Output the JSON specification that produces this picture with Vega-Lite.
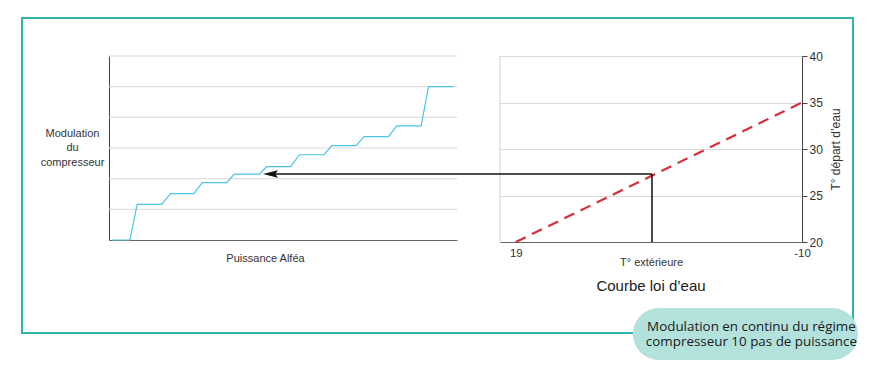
{
  "$schema": "https://vega.github.io/schema/vega-lite/v6.json",
  "padding": {"left": 21, "top": 17, "right": 0, "bottom": 0},
  "autosize": {"type": "pad"},
  "background": "white",
  "config": {
    "font": "Liberation Sans",
    "view": {"stroke": null},
    "axis": {"labelColor": "#333", "titleColor": "#333", "titleFontWeight": "normal", "gridColor": "#d9d9d9", "gridWidth": 1}
  },
  "hconcat": [
    {
      "width": 348,
      "height": 184,
      "layer": [
        {
          "data": {"values": [{"level": 1}, {"level": 2}, {"level": 3}, {"level": 4}, {"level": 5}, {"level": 6}]},
          "mark": {"type": "rule", "color": "#d9d9d9", "strokeWidth": 1},
          "encoding": {
            "x": {"datum": 0, "type": "quantitative"},
            "x2": {"datum": 100},
            "y": {"field": "level", "type": "quantitative"}
          }
        },
        {
          "data": {
            "values": [
              {"puissance": 0.8, "modulation": 0},
              {"puissance": 6.0, "modulation": 0},
              {"puissance": 8.1, "modulation": 1.16},
              {"puissance": 15.1, "modulation": 1.16},
              {"puissance": 17.7, "modulation": 1.51},
              {"puissance": 24.4, "modulation": 1.51},
              {"puissance": 26.8, "modulation": 1.87},
              {"puissance": 33.8, "modulation": 1.87},
              {"puissance": 36.0, "modulation": 2.15},
              {"puissance": 43.2, "modulation": 2.15},
              {"puissance": 45.3, "modulation": 2.39},
              {"puissance": 52.2, "modulation": 2.39},
              {"puissance": 54.7, "modulation": 2.78},
              {"puissance": 61.8, "modulation": 2.78},
              {"puissance": 64.0, "modulation": 3.08},
              {"puissance": 71.0, "modulation": 3.08},
              {"puissance": 73.3, "modulation": 3.37},
              {"puissance": 80.3, "modulation": 3.37},
              {"puissance": 82.7, "modulation": 3.72},
              {"puissance": 89.7, "modulation": 3.72},
              {"puissance": 91.8, "modulation": 5.0},
              {"puissance": 98.9, "modulation": 5.0}
            ]
          },
          "mark": {"type": "line", "color": "#4cc4e8", "strokeWidth": 1.2},
          "encoding": {
            "x": {
              "field": "puissance",
              "type": "quantitative",
              "scale": {"domain": [0, 100], "nice": false, "zero": false},
              "axis": {
                "title": "Puissance Alféa",
                "labels": false,
                "ticks": false,
                "grid": false,
                "domainColor": "#666",
                "titleFontSize": 11,
                "titleX": 156,
                "titleY": 18,
                "titleAlign": "center",
                "titleBaseline": "middle"
              }
            },
            "y": {
              "field": "modulation",
              "type": "quantitative",
              "scale": {"domain": [0, 6], "nice": false},
              "axis": {
                "title": ["Modulation", "du", "compresseur"],
                "labels": false,
                "ticks": false,
                "grid": false,
                "domainColor": "#444",
                "titleAngle": 0,
                "titleX": -37,
                "titleY": 71,
                "titleAlign": "center",
                "titleBaseline": "top",
                "titleLineHeight": 14.5,
                "titleFontSize": 11
              }
            }
          }
        },
        {
          "data": {"values": [{}]},
          "mark": {"type": "rect", "fill": null, "stroke": "#2fb5ab", "strokeWidth": 2, "clip": false},
          "encoding": {
            "x": {"datum": -25.0, "type": "quantitative"},
            "x2": {"datum": 213.79},
            "y": {"datum": 7.239, "type": "quantitative"},
            "y2": {"datum": -3.033}
          }
        },
        {
          "data": {"values": [{}]},
          "mark": {"type": "rule", "color": "#111", "strokeWidth": 1.5, "clip": false},
          "encoding": {
            "x": {"datum": 46.0, "type": "quantitative"},
            "x2": {"datum": 106.6},
            "y": {"datum": 2.15, "type": "quantitative"}
          }
        },
        {
          "data": {"values": [{}]},
          "mark": {"type": "point", "shape": "M0,0 L2,-0.5 L1.65,0 L2,0.5 Z", "filled": true, "color": "#111", "opacity": 1, "size": 225},
          "encoding": {
            "x": {"datum": 44.25, "type": "quantitative"},
            "y": {"datum": 2.15, "type": "quantitative"}
          }
        },
        {
          "data": {"values": [{}]},
          "mark": {"type": "rect", "fill": "#b3e1dc", "stroke": null, "cornerRadius": 26, "clip": false},
          "encoding": {
            "x": {"datum": 150.57, "type": "quantitative"},
            "x2": {"datum": 215.23},
            "y": {"datum": -2.217, "type": "quantitative"},
            "y2": {"datum": -3.913}
          }
        },
        {
          "data": {"values": [{"label": "Modulation en continu du régime\ncompresseur 10 pas de puissance"}]},
          "mark": {"type": "text", "font": "Open Sans", "fontSize": 13.4, "color": "#1a1a1a", "align": "center", "baseline": "middle", "lineBreak": "\n", "lineHeight": 14.5, "clip": false},
          "encoding": {
            "x": {"datum": 184.6, "type": "quantitative"},
            "y": {"datum": -2.85, "type": "quantitative"},
            "text": {"field": "label"}
          }
        }
      ]
    },
    {
      "width": 302,
      "height": 186,
      "title": {"text": "Courbe loi d’eau", "orient": "bottom", "anchor": "middle", "fontSize": 15, "fontWeight": "normal", "color": "#222", "offset": 11},
      "layer": [
        {
          "data": {"values": [{"t_ext": 19, "t_depart": 20}, {"t_ext": -10, "t_depart": 35}]},
          "mark": {"type": "line", "color": "#d62f3a", "strokeWidth": 2.2, "strokeDash": [11, 7]},
          "encoding": {
            "x": {
              "field": "t_ext",
              "type": "quantitative",
              "scale": {"domain": [-10, 20.6], "reverse": true, "nice": false, "zero": false},
              "axis": {
                "title": "T° extérieure",
                "values": [19, -10],
                "labelExpr": "datum.value < 0 ? '-' + abs(datum.value) : datum.label",
                "ticks": false,
                "grid": false,
                "labelFlush": false,
                "labelFontSize": 11.5,
                "labelPadding": 5,
                "domainColor": "#666",
                "titleFontSize": 11,
                "titlePadding": -2
              }
            },
            "y": {
              "field": "t_depart",
              "type": "quantitative",
              "scale": {"domain": [20, 40], "nice": false, "zero": false},
              "axis": {
                "orient": "right",
                "title": "T° départ d’eau",
                "values": [20, 25, 30, 35, 40],
                "grid": true,
                "tickSize": 5,
                "tickColor": "#444",
                "domainColor": "#444",
                "labelFontSize": 12,
                "labelPadding": 2,
                "titleAngle": 270,
                "titleBaseline": "top",
                "titleFontSize": 12,
                "titlePadding": 8
              }
            }
          }
        },
        {
          "data": {"values": [{}]},
          "mark": {"type": "rule", "color": "#cfcfcf", "strokeWidth": 1},
          "encoding": {
            "x": {"datum": 20.6, "type": "quantitative"},
            "y": {"datum": 20, "type": "quantitative"},
            "y2": {"datum": 40}
          }
        },
        {
          "data": {"values": [{"t_ext": 5.2, "t_depart": 27.3}]},
          "layer": [
            {
              "mark": {"type": "rule", "color": "#111", "strokeWidth": 1.5},
              "encoding": {
                "x": {"field": "t_ext", "type": "quantitative"},
                "y": {"field": "t_depart", "type": "quantitative"},
                "y2": {"datum": 20}
              }
            },
            {
              "mark": {"type": "rule", "color": "#111", "strokeWidth": 1.5, "clip": false},
              "encoding": {
                "x": {"field": "t_ext", "type": "quantitative"},
                "x2": {"datum": 22.63},
                "y": {"field": "t_depart", "type": "quantitative"}
              }
            }
          ]
        }
      ]
    }
  ],
  "spacing": 43,
  "bounds": "flush"
}
